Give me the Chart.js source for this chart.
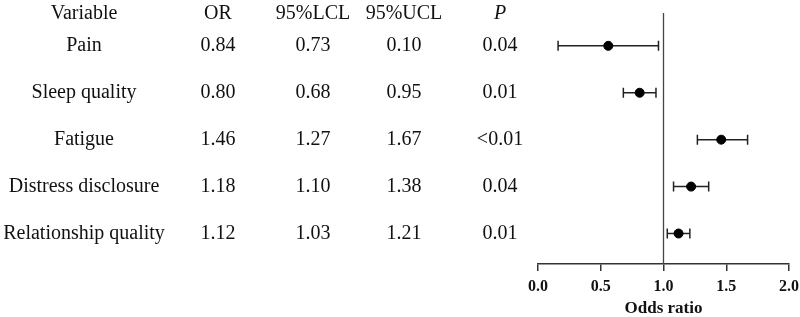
<!DOCTYPE html>
<html><head><meta charset="utf-8">
<script src="https://cdn.jsdelivr.net/npm/chart.js@4/dist/chart.umd.min.js"></script>
<style>html,body{margin:0;padding:0;background:#fff}#wrap{width:800px;height:317px;position:relative}</style>
</head><body><div id="wrap"><canvas id="c"></canvas></div>
<script>
// Table columns (text as printed in the figure)
const headers = ['Variable', 'OR', '95%LCL', '95%UCL', 'P'];
const variables = ['Pain', 'Sleep quality', 'Fatigue', 'Distress disclosure', 'Relationship quality'];
const orText = ['0.84', '0.80', '1.46', '1.18', '1.12'];
const lclText = ['0.73', '0.68', '1.27', '1.10', '1.03'];
const uclText = ['0.10', '0.95', '1.67', '1.38', '1.21'];
const pText = ['0.04', '0.01', '<0.01', '0.04', '0.01'];
// Plotted values
const plotOR = [0.56, 0.81, 1.46, 1.22, 1.12];
const plotLow = [0.16, 0.68, 1.27, 1.08, 1.03];
const plotHigh = [0.96, 0.94, 1.67, 1.36, 1.21];
const xTicks = [0, 0.5, 1, 1.5, 2];

const SERIF = '"Liberation Serif", "Times New Roman", serif';
const colX = [84, 218, 313, 404, 500];

const forestPlugin = {
  id: 'forest',
  beforeDatasetsDraw(chart) {
    const {ctx, chartArea, scales: {x, y}} = chart;
    ctx.save();
    // reference line at OR = 1
    ctx.strokeStyle = '#444';
    ctx.lineWidth = 1.3;
    const rx = x.getPixelForValue(1);
    ctx.beginPath();
    ctx.moveTo(rx, chartArea.top);
    ctx.lineTo(rx, chartArea.bottom);
    ctx.stroke();
    // error bars
    ctx.strokeStyle = '#222';
    ctx.lineWidth = 1.5;
    plotOR.forEach((v, i) => {
      const py = y.getPixelForValue(i);
      const x1 = x.getPixelForValue(plotLow[i]);
      const x2 = x.getPixelForValue(plotHigh[i]);
      ctx.beginPath();
      ctx.moveTo(x1, py); ctx.lineTo(x2, py);
      ctx.moveTo(x1, py - 5); ctx.lineTo(x1, py + 5);
      ctx.moveTo(x2, py - 5); ctx.lineTo(x2, py + 5);
      ctx.stroke();
    });
    ctx.restore();
  },
  afterDraw(chart) {
    const {ctx, scales: {y}} = chart;
    ctx.save();
    ctx.fillStyle = '#111';
    ctx.textAlign = 'center';
    ctx.textBaseline = 'middle';
    const hy = y.getPixelForValue(-0.68);
    headers.forEach((h, j) => {
      ctx.font = (h === 'P' ? 'italic ' : '') + '20px ' + SERIF;
      ctx.fillText(h, colX[j], hy);
    });
    ctx.font = '20px ' + SERIF;
    const cols = [variables, orText, lclText, uclText, pText];
    variables.forEach((_, i) => {
      const py = y.getPixelForValue(i);
      cols.forEach((col, j) => ctx.fillText(col[i], colX[j], py));
    });
    ctx.restore();
  }
};

new Chart(document.getElementById('c'), {
  type: 'scatter',
  data: {
    datasets: [{
      data: plotOR.map((v, i) => ({x: v, y: i})),
      backgroundColor: '#000',
      borderColor: '#000',
      pointRadius: 4.5,
      pointHoverRadius: 4.5
    }]
  },
  options: {
    responsive: true,
    maintainAspectRatio: false,
    animation: false,
    layout: {padding: {left: 538, right: 11, top: 13, bottom: 0}},
    plugins: {legend: {display: false}, tooltip: {enabled: false}},
    scales: {
      x: {
        type: 'linear', min: 0, max: 2,
        afterBuildTicks: (s) => { s.ticks = xTicks.map(v => ({value: v})); },
        afterFit: (s) => { s.height = 53; s.paddingLeft = 0; s.paddingRight = 0; },
        ticks: {
          callback: (v) => Number(v).toFixed(1),
          font: {family: SERIF, size: 16, weight: 'bold'},
          color: '#111', padding: 6, maxRotation: 0
        },
        grid: {drawOnChartArea: false, drawTicks: true, tickLength: 7, color: '#333', lineWidth: 1.5},
        border: {color: '#333', width: 1.5},
        title: {display: true, text: 'Odds ratio', font: {family: SERIF, size: 17, weight: 'bold', lineHeight: 1}, color: '#111', padding: {top: 0, bottom: 0}}
      },
      y: {
        type: 'linear', reverse: true, min: -0.7, max: 4.65, display: false
      }
    }
  },
  plugins: [forestPlugin]
});
</script>
</body></html>
